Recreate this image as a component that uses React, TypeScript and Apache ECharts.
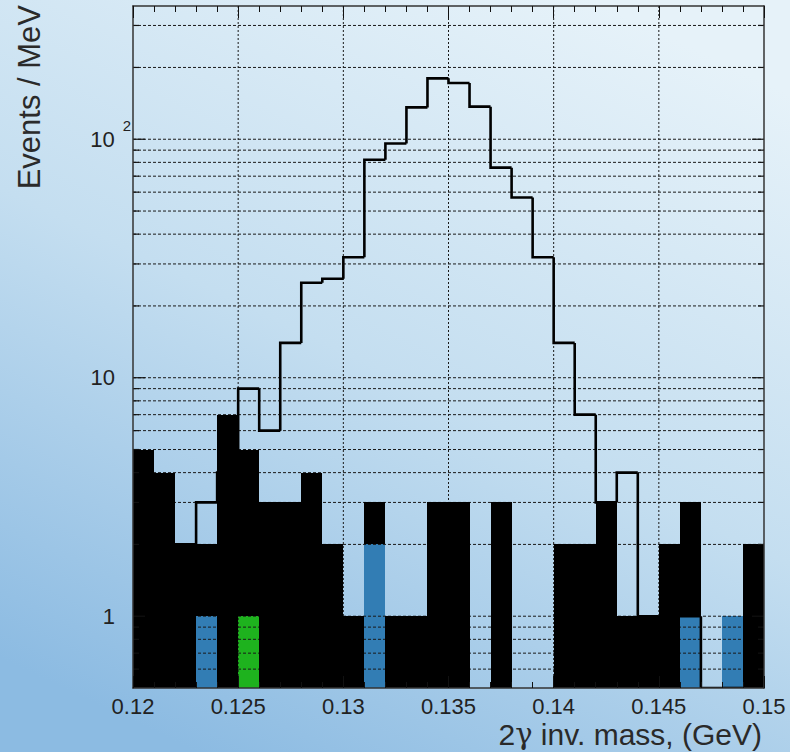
import React, { useEffect, useRef } from "react";
import * as echarts from "echarts";

// ---- Data (bins of 1 MeV from 0.120 to 0.150 GeV) ----
const binLow = [
  0.12, 0.121, 0.122, 0.123, 0.124, 0.125, 0.126, 0.127, 0.128, 0.129,
  0.13, 0.131, 0.132, 0.133, 0.134, 0.135, 0.136, 0.137, 0.138, 0.139,
  0.14, 0.141, 0.142, 0.143, 0.144, 0.145, 0.146, 0.147, 0.148, 0.149,
];
const binHigh = [
  0.121, 0.122, 0.123, 0.124, 0.125, 0.126, 0.127, 0.128, 0.129, 0.13,
  0.131, 0.132, 0.133, 0.134, 0.135, 0.136, 0.137, 0.138, 0.139, 0.14,
  0.141, 0.142, 0.143, 0.144, 0.145, 0.146, 0.147, 0.148, 0.149, 0.15,
];
// black filled histogram
const dataCounts = [5, 4, 2, 2, 7, 5, 3, 3, 4, 2, 1, 3, 1, 1, 3, 3, 0, 3, 0, 0, 2, 2, 3, 1, 1, 2, 3, 0, 1, 2];
// open (outline) histogram
const signalCounts = [1, 1, 2, 3, 4, 9, 6, 14, 25, 26, 32, 82, 96, 136, 180, 172, 137, 76, 57, 32, 14, 7, 3, 4, 1, 1, 1, 0, 0, 0];
// blue filled histogram
const blueCounts = [0, 0, 0, 1, 0, 0, 0, 0, 0, 0, 0, 2, 0, 0, 0, 0, 0, 0, 0, 0, 0, 0, 0, 0, 0, 0, 1, 0, 1, 0];
// green filled histogram
const greenCounts = [0, 0, 0, 0, 0, 1, 0, 0, 0, 0, 0, 0, 0, 0, 0, 0, 0, 0, 0, 0, 0, 0, 0, 0, 0, 0, 0, 0, 0, 0];

const X_MIN = 0.12;
const X_MAX = 0.15;
const Y_MIN = 0.5;
const Y_MAX = 362;

const yMajorValues = [1, 10, 100];
const yMinorValues = [0.6, 0.7, 0.8, 0.9, 2, 3, 4, 5, 6, 7, 8, 9, 20, 30, 40, 50, 60, 70, 80, 90, 200, 300];
const xGridValues = [0.125, 0.13, 0.135, 0.14, 0.145];

const Y_TITLE = "Events / MeV";

const FONT = "'Liberation Sans', Arial, Helvetica, sans-serif";
const FRAME = "#333333";
const TICK = "#111111";

// Filled bars; each datum [x0, x1, top, base]
function barSeries(name: string, data: number[][], color: string, z: number) {
  return {
    type: "custom",
    name,
    z,
    clip: true,
    silent: true,
    encode: { x: [0, 1], y: 2 },
    data,
    renderItem: (params: any, api: any) => {
      const x0 = api.value(0);
      const x1 = api.value(1);
      const v = api.value(2);
      const base = api.value(3);
      const p0 = api.coord([x0, v]);
      const p1 = api.coord([x1, base]);
      const left = Math.round(p0[0]);
      const right = Math.round(p1[0]);
      const top = Math.round(p0[1]);
      const bottom = Math.round(p1[1]);
      return {
        type: "rect",
        shape: { x: left, y: top, width: right - left, height: bottom - top },
        style: { fill: color },
      };
    },
  };
}

export default function App() {
  const ref = useRef<HTMLDivElement>(null);

  useEffect(() => {
    if (!ref.current) return;
    const chart = echarts.init(ref.current, undefined, { renderer: "svg" });

    const clampY = (v: number) => (v > Y_MIN ? v : Y_MIN);

    const colouredData = (counts: number[]) =>
      counts
        .map((v, i) => [binLow[i], binHigh[i], v, Y_MIN])
        .filter((d) => d[2] > 0);

    // black histogram drawn above the coloured ones (which it encloses)
    const blackData = dataCounts
      .map((v, i) => {
        const under = Math.max(blueCounts[i], greenCounts[i]);
        return [binLow[i], binHigh[i], v, under > 0 ? under : Y_MIN];
      })
      .filter((d) => d[2] > d[3]);

    const outlineData = signalCounts.map((v, i) => [
      binLow[i],
      binHigh[i],
      v,
      i === 0 ? 0 : signalCounts[i - 1],
    ]);

    const gridData = [
      ...yMajorValues.map((v) => [0, v]),
      ...yMinorValues.map((v) => [0, v]),
      ...xGridValues.map((v) => [1, v]),
    ];

    const tickData = [
      ...yMajorValues.map((v) => [v, 12]),
      ...yMinorValues.map((v) => [v, 6]),
    ];

    const yFormatter = (v: number) => {
      const l = Math.log10(v);
      if (Math.abs(l - Math.round(l)) > 1e-6) return "";
      const e = Math.round(l);
      if (e === 0) return "{a|1}";
      if (e === 1) return "{a|10}";
      if (e === 2) return "{b|10}{s|2}";
      return "";
    };

    const xAxisBase = {
      type: "value",
      min: X_MIN,
      max: X_MAX,
      interval: 0.005,
      z: 11,
      axisLine: { show: true, onZero: false, lineStyle: { color: FRAME, width: 1.5 } },
      axisTick: { show: true, inside: true, length: 12, lineStyle: { color: TICK, width: 1 } },
      minorTick: { show: true, splitNumber: 5, length: 6, lineStyle: { color: TICK, width: 1 } },
      splitLine: { show: false },
    };

    const option: any = {
      animation: false,
      backgroundColor: new echarts.graphic.LinearGradient(0.75, 0, 0.25, 1, [
        { offset: 0, color: "#e6f2f9" },
        { offset: 0.5, color: "#c4def0" },
        { offset: 1, color: "#8cbbe2" },
      ]),
      grid: { left: 133, right: 26, top: 6, bottom: 64, containLabel: false },
      xAxis: [
        {
          ...xAxisBase,
          position: "bottom",
          axisLabel: {
            show: true,
            margin: 7,
            fontSize: 22,
            lineHeight: 22,
            fontFamily: FONT,
            color: "#222",
            formatter: (v: number) => String(+v.toFixed(3)),
          },
        },
        {
          ...xAxisBase,
          position: "top",
          axisLabel: { show: false },
        },
      ],
      yAxis: [
        {
          type: "log",
          logBase: 10,
          min: Y_MIN,
          max: Y_MAX,
          position: "left",
          z: 11,
          axisLine: { show: true, onZero: false, lineStyle: { color: FRAME, width: 1.5 } },
          axisTick: { show: false },
          minorTick: { show: false },
          splitLine: { show: false },
          axisLabel: {
            show: true,
            margin: 2,
            color: "#222",
            fontFamily: FONT,
            formatter: yFormatter,
            rich: {
              a: { fontSize: 22, lineHeight: 42, fontFamily: FONT, color: "#222", padding: [0, 16, 0, 0] },
              b: { fontSize: 22, lineHeight: 42, fontFamily: FONT, color: "#222", padding: [0, 8, 0, 0] },
              s: { fontSize: 15, lineHeight: 15, fontFamily: FONT, color: "#222", verticalAlign: "top" },
            },
          },
        },
        {
          type: "log",
          logBase: 10,
          min: Y_MIN,
          max: Y_MAX,
          position: "right",
          z: 11,
          axisLine: { show: true, onZero: false, lineStyle: { color: FRAME, width: 1.5 } },
          axisTick: { show: false },
          minorTick: { show: false },
          splitLine: { show: false },
          axisLabel: { show: false },
        },
      ],
      series: [
        barSeries("blue", colouredData(blueCounts), "#327db4", 1),
        barSeries("green", colouredData(greenCounts), "#1eb21e", 1),
        {
          type: "custom",
          name: "grid",
          z: 2,
          clip: true,
          silent: true,
          data: gridData,
          renderItem: (params: any, api: any) => {
            const kind = api.value(0);
            const v = api.value(1);
            let p0, p1;
            if (kind === 0) {
              p0 = api.coord([X_MIN, v]);
              p1 = api.coord([X_MAX, v]);
            } else {
              p0 = api.coord([v, Y_MIN]);
              p1 = api.coord([v, Y_MAX]);
            }
            return {
              type: "line",
              shape: { x1: p0[0], y1: p0[1], x2: p1[0], y2: p1[1] },
              style: { stroke: "#1a1a1a", lineWidth: 1, lineDash: kind === 0 ? [3, 2] : [2, 2] },
            };
          },
        },
        barSeries("data", blackData, "#000000", 3),
        {
          type: "custom",
          name: "signal",
          z: 4,
          clip: true,
          silent: true,
          encode: { x: [0, 1], y: 2 },
          data: outlineData,
          renderItem: (params: any, api: any) => {
            const x0 = api.value(0);
            const x1 = api.value(1);
            const v = clampY(api.value(2));
            const vp = clampY(api.value(3));
            const a = api.coord([x0, vp]);
            const b = api.coord([x0, v]);
            const c = api.coord([x1, v]);
            return {
              type: "polyline",
              shape: { points: [a, b, c] },
              style: { stroke: "#000000", lineWidth: 2.6, fill: "none", lineJoin: "miter" },
            };
          },
        },
        {
          type: "custom",
          name: "yticks",
          z: 6,
          clip: false,
          silent: true,
          data: tickData,
          renderItem: (params: any, api: any) => {
            const v = api.value(0);
            const len = api.value(1);
            const l = api.coord([X_MIN, v]);
            const r = api.coord([X_MAX, v]);
            return {
              type: "group",
              children: [
                {
                  type: "line",
                  shape: { x1: l[0], y1: l[1], x2: l[0] + len, y2: l[1] },
                  style: { stroke: TICK, lineWidth: 1.2 },
                },
                {
                  type: "line",
                  shape: { x1: r[0] - len, y1: r[1], x2: r[0], y2: r[1] },
                  style: { stroke: TICK, lineWidth: 1.2 },
                },
              ],
            };
          },
        },
      ],
      graphic: [
        {
          type: "text",
          right: 28,
          top: 719,
          style: {
            text: "{n|2}{g|γ}{n| inv. mass, (GeV)}",
            font: `30px ${FONT}`,
            fill: "#2a2a2a",
            rich: {
              n: { fontSize: 30, fontFamily: FONT, color: "#2a2a2a", lineHeight: 34 },
              g: { fontSize: 29, fontFamily: "'DejaVu Serif', serif", color: "#2a2a2a", lineHeight: 34 },
            },
          },
        },
        {
          type: "text",
          x: 29,
          y: 5,
          rotation: Math.PI / 2,
          style: {
            text: Y_TITLE,
            font: `31px ${FONT}`,
            fill: "#2a2a2a",
            align: "right",
            verticalAlign: "middle",
            textAlign: "right",
            textVerticalAlign: "middle",
          },
        },
      ],
    };

    chart.setOption(option);
    return () => chart.dispose();
  }, []);

  return (
    <div
      ref={ref}
      style={{ position: "fixed", left: 0, top: 0, width: 790, height: 752 }}
    />
  );
}
